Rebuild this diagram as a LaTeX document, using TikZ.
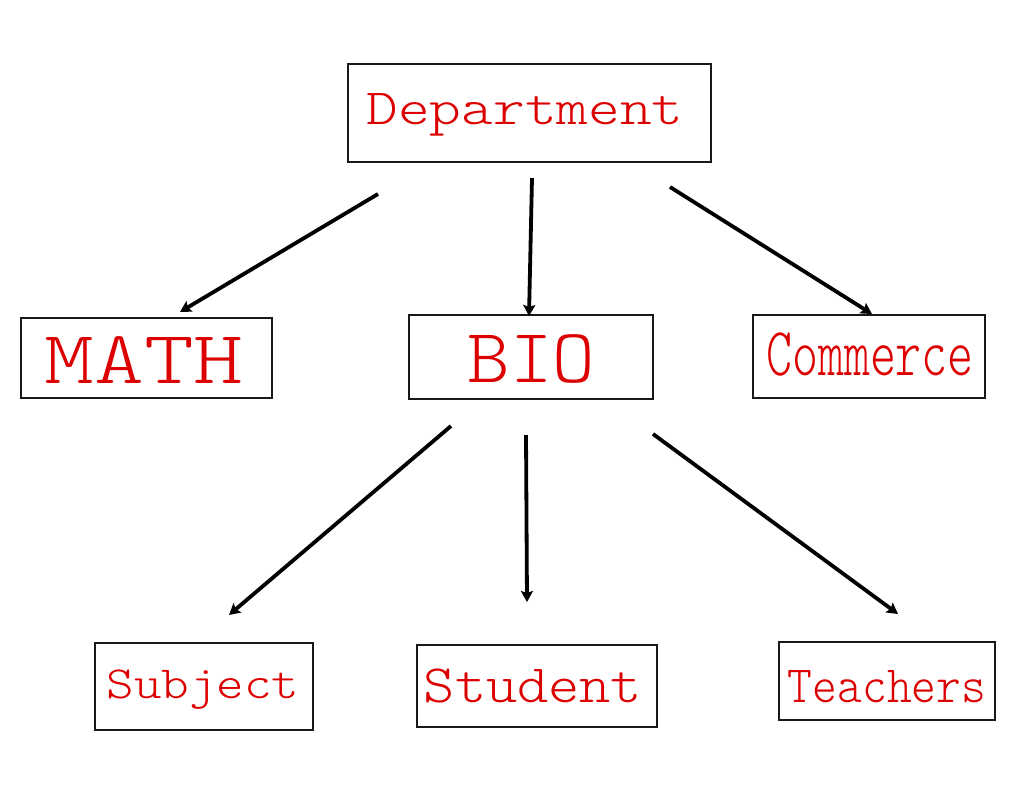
\documentclass[tikz,border=0pt]{standalone}
\usetikzlibrary{arrows.meta}
\definecolor{labelred}{RGB}{220,0,0}
\tikzset{
  box/.style={draw=black!90, line width=2.4pt, inner sep=0pt},
  boxtext/.style={anchor=base, inner sep=0pt, text=labelred},
  link/.style={line width=3.8pt, -{Stealth[length=11pt,width=12pt,inset=2pt]}}
}
\newcommand{\boxlabel}[3]{\ttfamily\fontseries{l}\fontsize{#1}{#1}\selectfont\scalebox{#2}[1]{#3}}
\begin{document}
\begin{tikzpicture}[x=1pt,y=-1pt]
                \useasboundingbox (0,0) rectangle (1024,795);

                \node[box, minimum width=363pt, minimum height=98pt] (dept) at (529.5,113) {};
                \node[box, minimum width=251pt, minimum height=80pt] (math) at (146.5,358) {};
                \node[box, minimum width=244pt, minimum height=84pt] (bio) at (531,357) {};
                \node[box, minimum width=232pt, minimum height=83pt] (comm) at (869,356.5) {};
                \node[box, minimum width=218pt, minimum height=87pt] (subj) at (204,686.5) {};
                \node[box, minimum width=240pt, minimum height=82pt] (stud) at (537,686) {};
                \node[box, minimum width=216pt, minimum height=78pt] (teach) at (887,681) {};

                \node[boxtext] (deptText) at (525,124) {\boxlabel{50.7}{1.19}{Department}};
                \node[boxtext] (mathText) at (144,383) {\boxlabel{75.3}{1.26}{MATH}};
                \node[boxtext] (bioText) at (531.5,382) {\boxlabel{77}{1.05}{BIO}};
                \node[boxtext] (commText) at (870,375) {\boxlabel{68.7}{0.72}{Commerce}};
                \node[boxtext] (subjText) at (203,698) {\boxlabel{46}{1.14}{Subject}};
                \node[boxtext] (studText) at (533,702) {\boxlabel{54}{1.1}{Student}};
                \node[boxtext] (teachText) at (887,702) {\boxlabel{52.4}{0.9}{Teachers}};

                % arrow ends
                \coordinate (d1) at (378,194);  \coordinate (m1) at (180,312);
                \coordinate (d2) at (532,178);  \coordinate (b1) at (529,316);
                \coordinate (d3) at (670,187);  \coordinate (c1) at (872,314);
                \coordinate (b2) at (451,426);  \coordinate (s1) at (229,615);
                \coordinate (b3) at (526,435);  \coordinate (s2) at (527,602);
                \coordinate (b4) at (653,434);  \coordinate (t1) at (898,614);

                \draw[link] (d1) -- (m1);
                \draw[link] (d2) -- (b1);
                \draw[link] (d3) -- (c1);
                \draw[link] (b2) -- (s1);
                \draw[link] (b3) -- (s2);
                \draw[link] (b4) -- (t1);
            \end{tikzpicture}
\end{document}
